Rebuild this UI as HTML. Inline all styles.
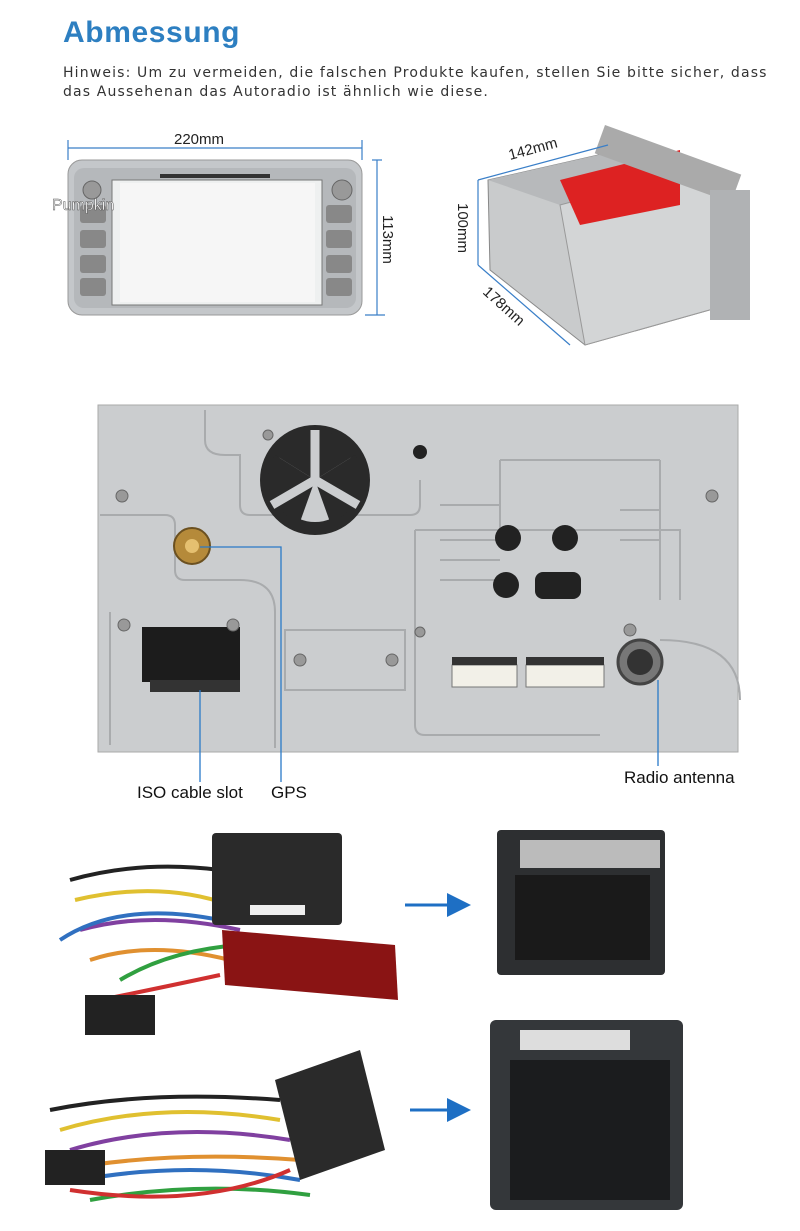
<!DOCTYPE html>
<html><head><meta charset="utf-8"><style>
body{margin:0;width:800px;height:1231px;background:#fff;position:relative;overflow:hidden;font-family:"Liberation Sans",sans-serif}
.a{position:absolute}
h1{position:absolute;left:63px;top:16px;margin:0;font:bold 30px "Liberation Sans",sans-serif;color:#2d7fc1;letter-spacing:0.6px}
.note{position:absolute;left:63px;top:64px;font:14px "DejaVu Sans",sans-serif;color:#333;line-height:19px;letter-spacing:1.15px;white-space:nowrap}
.lbl{position:absolute;font:17px "Liberation Sans",sans-serif;color:#111;white-space:nowrap}
</style></head><body>
<h1>Abmessung</h1>
<div class="note">Hinweis: Um zu vermeiden, die falschen Produkte kaufen, stellen Sie bitte sicher, dass<br>das Aussehenan das Autoradio ist ähnlich wie diese.</div>

<svg class="a" style="left:0;top:0" width="800" height="1231">
<defs>
<marker id="ar" markerWidth="8" markerHeight="8" refX="6" refY="4" orient="auto"><path d="M0,0L8,4L0,8z" fill="#1e6fc4"/></marker>
</defs>
<g stroke="#3a7fc8" stroke-width="1.2" fill="none">
<line x1="68" y1="148" x2="362" y2="148"/><line x1="68" y1="140" x2="68" y2="160"/><line x1="362" y1="140" x2="362" y2="160"/>
<line x1="372" y1="160" x2="382" y2="160"/><line x1="377" y1="160" x2="377" y2="315"/><line x1="365" y1="315" x2="385" y2="315"/>
</g>
<text x="174" y="144" font-family="Liberation Sans" font-size="15" fill="#222">220mm</text>
<text x="383" y="215" font-family="Liberation Sans" font-size="15" fill="#222" transform="rotate(90 383 215)">113mm</text>
<rect x="68" y="160" width="294" height="155" rx="14" fill="#c4c7ca" stroke="#999"/>
<rect x="74" y="168" width="282" height="140" rx="10" fill="#b5b8bb"/>
<rect x="112" y="180" width="210" height="125" fill="#eef0f0" stroke="#777"/>
<rect x="120" y="183" width="195" height="119" fill="#f6f6f6"/>
<rect x="80" y="205" width="26" height="18" rx="3" fill="#888"/><rect x="80" y="230" width="26" height="18" rx="3" fill="#888"/><rect x="80" y="255" width="26" height="18" rx="3" fill="#888"/><rect x="80" y="278" width="26" height="18" rx="3" fill="#888"/>
<rect x="326" y="205" width="26" height="18" rx="3" fill="#888"/><rect x="326" y="230" width="26" height="18" rx="3" fill="#888"/><rect x="326" y="255" width="26" height="18" rx="3" fill="#888"/><rect x="326" y="278" width="26" height="18" rx="3" fill="#888"/>
<circle cx="342" cy="190" r="10" fill="#999" stroke="#666"/>
<circle cx="92" cy="190" r="9" fill="#999" stroke="#666"/>
<rect x="160" y="174" width="110" height="4" fill="#333"/>
<text x="52" y="210" font-family="Liberation Sans" font-size="16" fill="#fff" stroke="#555" stroke-width="0.5">Pumpkin</text>
<polygon points="488,180 620,150 745,200 745,300 585,345 490,270" fill="#c9cbcc" stroke="#888"/>
<polygon points="488,180 620,150 690,170 560,205" fill="#b7b9bb"/>
<polygon points="560,205 690,170 745,200 745,300 585,345" fill="#d3d5d6" stroke="#999"/>
<polygon points="560,180 680,150 680,205 580,225" fill="#dd2222"/>
<rect x="605" y="125" width="145" height="30" fill="#aaa" transform="rotate(20 605 125)"/>
<rect x="710" y="190" width="40" height="130" fill="#b0b2b4"/>
<g stroke="#3a7fc8" stroke-width="1.2"><line x1="478" y1="180" x2="608" y2="145"/><line x1="478" y1="180" x2="478" y2="265"/><line x1="478" y1="265" x2="570" y2="345"/></g>
<text x="510" y="160" font-family="Liberation Sans" font-size="15" fill="#222" transform="rotate(-15 510 160)">142mm</text>
<text x="458" y="203" font-family="Liberation Sans" font-size="15" fill="#222" transform="rotate(90 458 203)">100mm</text>
<text x="482" y="293" font-family="Liberation Sans" font-size="15" fill="#222" transform="rotate(42 482 293)">178mm</text>
<rect x="98" y="405" width="640" height="347" fill="#cbcdcf" stroke="#aaa"/>
<g fill="none" stroke="#a9abad" stroke-width="2">
<path d="M100,515 H165 Q175,515 175,525 V570 Q175,580 185,580 H240 Q275,580 275,612 V748"/>
<path d="M205,410 V440 Q205,455 225,455 H240 V505 Q240,515 250,515 H410 Q420,515 420,505 V480"/>
<path d="M415,530 H680 V600"/><path d="M415,530 V725 Q415,735 425,735 H600"/>
<path d="M110,612 V745 M285,630 H405 V690 H285 Z M660,640 Q740,640 740,700"/>
<path d="M500,460 H660 M500,460 V540 M660,460 V600 M440,505 H500 M440,540 H500 M440,560 H500 M440,580 H500 M620,510 H660 M620,540 H660"/>
</g>
<circle cx="315" cy="480" r="55" fill="#2a2a2a"/>
<circle cx="315" cy="480" r="42" fill="#cbcdcf"/>
<path d="M315,480 L275,455 A45,45 0 0 1 355,455 Z" fill="#2a2a2a"/>
<path d="M315,480 L275,455 A45,45 0 0 0 300,522 Z" fill="#2a2a2a"/>
<path d="M315,480 L355,455 A45,45 0 0 1 330,522 Z" fill="#2a2a2a"/>
<g stroke="#cbcdcf" stroke-width="9"><line x1="315" y1="480" x2="315" y2="430"/><line x1="315" y1="480" x2="272" y2="505"/><line x1="315" y1="480" x2="358" y2="505"/></g>
<circle cx="420" cy="452" r="7" fill="#222"/>
<circle cx="508" cy="538" r="13" fill="#222"/><circle cx="565" cy="538" r="13" fill="#222"/><circle cx="506" cy="585" r="13" fill="#222"/><rect x="535" y="572" width="46" height="27" rx="8" fill="#222"/>
<circle cx="192" cy="546" r="18" fill="#b58a3a" stroke="#6b5020" stroke-width="2"/><circle cx="192" cy="546" r="7" fill="#e5c070"/>
<rect x="142" y="627" width="98" height="55" fill="#1c1c1c"/>
<rect x="150" y="680" width="90" height="12" fill="#333"/>
<circle cx="640" cy="662" r="22" fill="#777" stroke="#444" stroke-width="3"/><circle cx="640" cy="662" r="13" fill="#333"/>
<rect x="452" y="665" width="65" height="22" fill="#f2f0e8" stroke="#777"/><rect x="526" y="665" width="78" height="22" fill="#f2f0e8" stroke="#777"/>
<rect x="452" y="657" width="65" height="8" fill="#333"/><rect x="526" y="657" width="78" height="8" fill="#333"/>
<g fill="#999" stroke="#666"><circle cx="122" cy="496" r="6"/><circle cx="712" cy="496" r="6"/><circle cx="124" cy="625" r="6"/><circle cx="233" cy="625" r="6"/><circle cx="300" cy="660" r="6"/><circle cx="392" cy="660" r="6"/><circle cx="420" cy="632" r="5"/><circle cx="630" cy="630" r="6"/><circle cx="268" cy="435" r="5"/></g>
<g stroke="#2a7ac8" stroke-width="1.3" fill="none"><path d="M200,547 H281 V782"/><line x1="200" y1="690" x2="200" y2="782"/><line x1="658" y1="680" x2="658" y2="766"/></g>
<g fill="none" stroke-width="4">
<path d="M70,880 Q140,860 220,870" stroke="#222"/><path d="M75,900 Q160,880 230,905" stroke="#e0c030"/><path d="M80,930 Q150,910 240,930" stroke="#8040a0"/><path d="M90,960 Q150,940 230,960" stroke="#e09030"/><path d="M60,940 Q120,900 220,920" stroke="#3070c0"/><path d="M120,980 Q170,950 240,945" stroke="#30a040"/><path d="M100,1000 Q150,990 220,975" stroke="#d03030"/>
<path d="M50,1110 Q150,1090 280,1100" stroke="#222"/><path d="M60,1130 Q160,1100 280,1120" stroke="#e0c030"/><path d="M70,1150 Q170,1120 290,1140" stroke="#8040a0"/><path d="M60,1170 Q170,1150 300,1160" stroke="#e09030"/><path d="M80,1180 Q190,1160 300,1180" stroke="#3070c0"/><path d="M90,1200 Q200,1180 310,1195" stroke="#30a040"/><path d="M70,1190 Q200,1210 290,1170" stroke="#d03030"/>
</g>
<rect x="212" y="833" width="130" height="92" rx="4" fill="#2a2a2a"/>
<rect x="250" y="905" width="55" height="10" fill="#eee"/>
<polygon points="222,930 395,945 398,1000 225,985" fill="#8a1414"/>
<rect x="85" y="995" width="70" height="40" fill="#222"/>
<rect x="45" y="1150" width="60" height="35" fill="#222"/>
<polygon points="275,1080 360,1050 385,1150 300,1180" fill="#2a2a2a"/>
<rect x="497" y="830" width="168" height="145" rx="4" fill="#2d2f31"/>
<rect x="520" y="840" width="140" height="28" fill="#bbb"/>
<rect x="515" y="875" width="135" height="85" fill="#1a1a1a"/>
<rect x="490" y="1020" width="193" height="190" rx="6" fill="#34373a"/>
<rect x="520" y="1030" width="110" height="20" fill="#ddd"/>
<rect x="510" y="1060" width="160" height="140" fill="#1b1c1e"/>
<line x1="405" y1="905" x2="465" y2="905" stroke="#1e6fc4" stroke-width="3" marker-end="url(#ar)"/>
<line x1="410" y1="1110" x2="465" y2="1110" stroke="#1e6fc4" stroke-width="3" marker-end="url(#ar)"/>
</svg>
<div class="lbl" style="left:137px;top:783px">ISO cable slot</div>
<div class="lbl" style="left:271px;top:783px">GPS</div>
<div class="lbl" style="left:624px;top:768px">Radio antenna</div>
</body></html>
